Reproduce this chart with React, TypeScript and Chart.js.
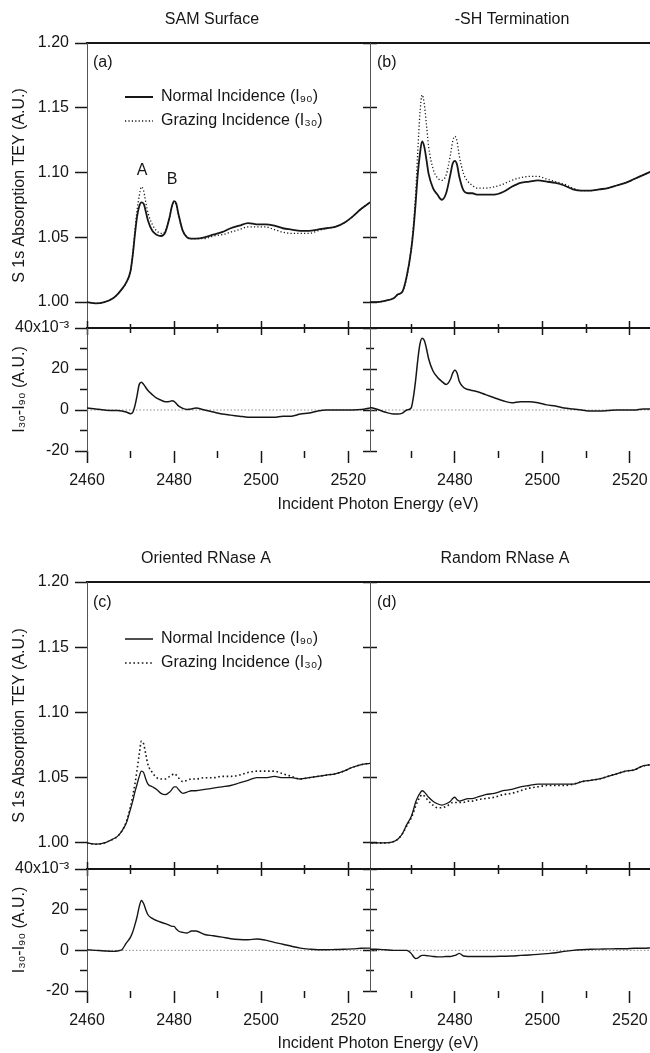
import React, { useEffect, useRef } from 'react';
import { Chart, registerables } from 'chart.js';

Chart.register(...registerables);

const FAMILY = "'Liberation Sans', Arial, Helvetica, sans-serif";
const INK = '#161616';
const FONT = { family: FAMILY, size: 16 };
Chart.defaults.font.family = FAMILY;
Chart.defaults.color = INK;

// ---------------- data ----------------
const energy = [2460, 2462, 2464, 2466, 2467, 2468, 2469, 2470, 2470.5, 2471, 2471.5, 2472, 2472.5, 2473, 2473.5, 2474, 2475, 2476, 2477, 2478, 2479, 2479.5, 2480, 2480.5, 2481, 2482, 2483, 2484, 2485, 2487, 2489, 2491, 2493, 2495, 2497, 2499, 2501, 2503, 2505, 2507, 2509, 2511, 2513, 2515, 2517, 2519, 2521, 2523, 2525];

const samNormal = [1.000, 0.999, 1.000, 1.003, 1.006, 1.010, 1.015, 1.024, 1.036, 1.052, 1.066, 1.074, 1.077, 1.076, 1.070, 1.063, 1.055, 1.052, 1.051, 1.054, 1.066, 1.074, 1.078, 1.076, 1.068, 1.055, 1.050, 1.049, 1.049, 1.050, 1.052, 1.054, 1.057, 1.059, 1.061, 1.060, 1.060, 1.059, 1.057, 1.056, 1.055, 1.055, 1.056, 1.057, 1.058, 1.061, 1.066, 1.072, 1.077];
const samGrazing = [1.000, 0.999, 1.000, 1.003, 1.006, 1.010, 1.015, 1.024, 1.037, 1.055, 1.071, 1.082, 1.089, 1.086, 1.077, 1.069, 1.060, 1.055, 1.053, 1.055, 1.066, 1.074, 1.077, 1.075, 1.067, 1.055, 1.050, 1.049, 1.049, 1.049, 1.051, 1.052, 1.054, 1.056, 1.058, 1.058, 1.058, 1.056, 1.054, 1.053, 1.053, 1.053, 1.055, 1.057, 1.058, 1.061, 1.066, 1.072, 1.077];
const samDiff = [1, 0.5, 0, -0.3, -0.3, -0.5, -1, -1.8, -1.2, 2, 7, 12.5, 13.5, 12.5, 11, 9.5, 7.5, 5.8, 4.8, 4, 4.2, 4.5, 4.2, 3.2, 2, 0.8, 0.3, 0.5, 1, 0, -1, -2, -2.5, -3, -3.5, -3.5, -3.5, -3.5, -3, -3, -2, -1.5, -0.5, 0, 0, 0, 0, 0.2, 1];

const shNormal = [1.000, 1.000, 1.001, 1.003, 1.006, 1.008, 1.020, 1.040, 1.055, 1.075, 1.098, 1.114, 1.124, 1.120, 1.110, 1.099, 1.088, 1.083, 1.079, 1.084, 1.099, 1.107, 1.109, 1.106, 1.097, 1.086, 1.084, 1.084, 1.083, 1.083, 1.083, 1.085, 1.089, 1.092, 1.093, 1.094, 1.093, 1.092, 1.090, 1.087, 1.086, 1.086, 1.087, 1.088, 1.090, 1.092, 1.095, 1.098, 1.101];
const shGrazing = [1.000, 1.000, 1.001, 1.003, 1.006, 1.008, 1.019, 1.041, 1.058, 1.082, 1.115, 1.145, 1.160, 1.153, 1.137, 1.120, 1.103, 1.096, 1.094, 1.098, 1.114, 1.124, 1.128, 1.124, 1.113, 1.099, 1.093, 1.090, 1.088, 1.088, 1.089, 1.091, 1.094, 1.096, 1.097, 1.097, 1.095, 1.093, 1.091, 1.088, 1.086, 1.086, 1.087, 1.088, 1.090, 1.092, 1.095, 1.098, 1.101];
const shDiff = [1.5, 0.5, -1, -2, -2, -1.5, 0, 1, 6, 14, 24, 32, 35, 34, 30, 25, 19, 16, 14, 12.5, 15, 18, 19.5, 18, 14, 11, 10, 9.5, 9, 7.5, 6, 4.5, 3.5, 4, 4, 3.5, 2.5, 2, 1, 0.5, 0, -0.5, -0.5, -0.3, 0, 0, 0, 0.5, 0.5];

const orientedNormal = [1.000, 0.999, 1.000, 1.003, 1.005, 1.009, 1.015, 1.026, 1.032, 1.039, 1.045, 1.051, 1.055, 1.054, 1.049, 1.045, 1.043, 1.041, 1.038, 1.037, 1.039, 1.041, 1.043, 1.043, 1.041, 1.038, 1.039, 1.040, 1.040, 1.041, 1.042, 1.043, 1.044, 1.046, 1.048, 1.050, 1.050, 1.051, 1.050, 1.050, 1.049, 1.050, 1.051, 1.052, 1.053, 1.055, 1.058, 1.060, 1.061];
const orientedGrazing = [1.000, 0.999, 1.000, 1.003, 1.005, 1.009, 1.016, 1.028, 1.036, 1.045, 1.056, 1.068, 1.078, 1.076, 1.068, 1.060, 1.054, 1.050, 1.049, 1.049, 1.051, 1.052, 1.053, 1.052, 1.050, 1.047, 1.048, 1.049, 1.049, 1.050, 1.050, 1.051, 1.051, 1.052, 1.054, 1.055, 1.055, 1.055, 1.053, 1.051, 1.049, 1.050, 1.051, 1.052, 1.053, 1.055, 1.058, 1.060, 1.061];
const orientedDiff = [0.3, 0, -0.3, -0.5, -0.3, 0.3, 3.5, 6.5, 9, 12.5, 16.5, 21.5, 24.5, 23, 20, 17.5, 15.7, 14.6, 13.8, 13.1, 12.3, 11.8, 11.8, 10.5, 9.5, 8.8, 8.5, 9.5, 9.5, 7.8, 7.2, 6.5, 5.7, 5.3, 5.2, 5.6, 5, 3.9, 3, 2, 1.1, 0.6, 0.3, 0.3, 0.4, 0.5, 0.7, 1, 1.1];

const randomNormal = [1.000, 1.000, 1.000, 1.001, 1.003, 1.007, 1.014, 1.020, 1.025, 1.031, 1.035, 1.038, 1.040, 1.039, 1.037, 1.035, 1.032, 1.030, 1.029, 1.030, 1.032, 1.034, 1.035, 1.033, 1.032, 1.033, 1.034, 1.034, 1.035, 1.037, 1.038, 1.040, 1.041, 1.043, 1.044, 1.045, 1.045, 1.045, 1.045, 1.045, 1.047, 1.048, 1.049, 1.051, 1.053, 1.055, 1.056, 1.059, 1.060];
const randomGrazing = [1.000, 1.000, 1.000, 1.001, 1.003, 1.007, 1.013, 1.019, 1.023, 1.028, 1.032, 1.035, 1.037, 1.036, 1.034, 1.032, 1.029, 1.027, 1.027, 1.028, 1.030, 1.031, 1.031, 1.031, 1.031, 1.031, 1.032, 1.032, 1.033, 1.034, 1.035, 1.037, 1.038, 1.040, 1.042, 1.043, 1.044, 1.044, 1.044, 1.045, 1.047, 1.048, 1.049, 1.051, 1.053, 1.055, 1.056, 1.059, 1.060];
const randomDiff = [0.5, 0.5, 0.3, 0, 0, 0, 0, -1.5, -3, -4, -3.8, -3, -2.5, -2.5, -2.6, -2.7, -3, -3.2, -3.2, -3, -3, -2.8, -2.5, -2, -1.5, -2.8, -3, -3, -3, -3, -3, -2.9, -2.8, -2.5, -2.3, -2, -1.6, -1.2, -0.5, 0, 0.3, 0.5, 0.6, 0.7, 0.8, 0.8, 1, 1, 1.3];

const zeroLineEnergy = [2460, 2525];
const zeroLineValue = [0, 0];

const energyTicks = [2460, 2470, 2480, 2490, 2500, 2510, 2520];
const energyLabels = [2460, 2480, 2500, 2520];
const teyTicks = [1.0, 1.05, 1.1, 1.15, 1.2];
const diffTicks = [-20, -10, 0, 10, 20, 30, 40];
const diffLabels = [-20, 0, 20, 40];
const diffTopLabel = '40x10⁻³';

const panelTitles = ['SAM Surface', '-SH Termination', 'Oriented RNase A', 'Random RNase A'];
const panelLetters = ['(a)', '(b)', '(c)', '(d)'];
const peakLabels = ['A', 'B'];
const legendLabels = ['Normal Incidence (I₉₀)', 'Grazing Incidence (I₃₀)'];
const xTitle = 'Incident Photon Energy (eV)';
const teyTitle = 'S 1s Absorption TEY (A.U.)';
const diffTitle = 'I₃₀-I₉₀ (A.U.)';

// ---------------- layout (pixels) ----------------
const PAGE_W = 650;
const PAGE_H = 1053;
const COLS = [
  { left: 87, right: 370, xMin: 2460, xMax: 2525 },
  { left: 370, right: 650, xMin: 2460.6, xMax: 2524.6 },
];
const ROWS = [
  { top: 43, mid: 328, bottom: 451 },
  { top: 582, mid: 869, bottom: 991 },
];

type Series = { label: string; values: number[]; width: number; dash?: number[] };
type TextItem = { text: string; x: number; y: number; align?: CanvasTextAlign };
type Panel = {
  col: number;
  row: number;
  kind: 'tey' | 'diff';
  series: Series[];
  texts: TextItem[];
  legendAt?: { left: number; top: number };
};

const DOT_FINE = [1.2, 2.2];
const DOT_WIDE = [1.6, 2.6];

const PANELS: Panel[] = [
  {
    col: 0, row: 0, kind: 'tey',
    series: [
      { label: legendLabels[0], values: samNormal, width: 1.8 },
      { label: legendLabels[1], values: samGrazing, width: 1.3, dash: DOT_FINE },
    ],
    texts: [
      { text: panelTitles[0], x: 212, y: 20 },
      { text: panelLetters[0], x: 93, y: 63, align: 'left' },
      { text: peakLabels[0], x: 142, y: 171 },
      { text: peakLabels[1], x: 172, y: 180 },
    ],
    legendAt: { left: 117, top: 81 },
  },
  {
    col: 0, row: 0, kind: 'diff',
    series: [{ label: 'SAM Surface I30-I90', values: samDiff, width: 1.5 }],
    texts: [{ text: xTitle, x: 378, y: 505 }],
  },
  {
    col: 1, row: 0, kind: 'tey',
    series: [
      { label: legendLabels[0], values: shNormal, width: 1.8 },
      { label: legendLabels[1], values: shGrazing, width: 1.3, dash: DOT_FINE },
    ],
    texts: [
      { text: panelTitles[1], x: 512, y: 20 },
      { text: panelLetters[1], x: 377, y: 63, align: 'left' },
    ],
  },
  {
    col: 1, row: 0, kind: 'diff',
    series: [{ label: '-SH Termination I30-I90', values: shDiff, width: 1.5 }],
    texts: [],
  },
  {
    col: 0, row: 1, kind: 'tey',
    series: [
      { label: legendLabels[0], values: orientedNormal, width: 1.3 },
      { label: legendLabels[1], values: orientedGrazing, width: 1.6, dash: DOT_WIDE },
    ],
    texts: [
      { text: panelTitles[2], x: 206, y: 559 },
      { text: panelLetters[2], x: 93, y: 603, align: 'left' },
    ],
    legendAt: { left: 117, top: 623 },
  },
  {
    col: 0, row: 1, kind: 'diff',
    series: [{ label: 'Oriented RNase A I30-I90', values: orientedDiff, width: 1.4 }],
    texts: [{ text: xTitle, x: 378, y: 1044 }],
  },
  {
    col: 1, row: 1, kind: 'tey',
    series: [
      { label: legendLabels[0], values: randomNormal, width: 1.3 },
      { label: legendLabels[1], values: randomGrazing, width: 1.6, dash: DOT_WIDE },
    ],
    texts: [
      { text: panelTitles[3], x: 505, y: 559 },
      { text: panelLetters[3], x: 377, y: 603, align: 'left' },
    ],
  },
  {
    col: 1, row: 1, kind: 'diff',
    series: [{ label: 'Random RNase A I30-I90', values: randomDiff, width: 1.4 }],
    texts: [],
  },
];

// ---------------- helpers ----------------
function axisFit(size: number, horizontal: boolean) {
  return (scale: any) => {
    if (horizontal) scale.height = size;
    else scale.width = size;
    scale.paddingLeft = 0;
    scale.paddingRight = 0;
    scale.paddingTop = 0;
    scale.paddingBottom = 0;
  };
}

function useTicks(values: number[]) {
  return (scale: any) => {
    const lo = scale.options.min;
    const hi = scale.options.max;
    scale.ticks = values.filter((v) => v >= lo - 1e-9 && v <= hi + 1e-9).map((v) => ({ value: v }));
  };
}

function tickGrid(len: number, majors: number[], minor: number, fromOuter: boolean) {
  return {
    display: true,
    drawOnChartArea: false,
    drawTicks: true,
    tickLength: len,
    tickWidth: 1.5,
    tickColor: INK,
    tickBorderDash: (ctx: any) => {
      const v = ctx && ctx.tick ? ctx.tick.value : NaN;
      if (majors.some((m) => Math.abs(m - v) < 1e-9)) return [];
      return fromOuter ? [0, len - minor, 1000] : [minor, 1000];
    },
  };
}

function textLayer(items: TextItem[]) {
  return {
    id: 'figureText',
    afterDraw(chart: any) {
      const ctx = chart.ctx;
      ctx.save();
      ctx.font = `16px ${FAMILY}`;
      ctx.fillStyle = INK;
      ctx.textBaseline = 'middle';
      for (const t of items) {
        ctx.textAlign = t.align ?? 'center';
        ctx.fillText(t.text, t.x, t.y);
      }
      ctx.restore();
    },
  };
}

function legendMover(pos: { left: number; top: number }) {
  return {
    id: 'legendMover',
    afterLayout(chart: any) {
      const lg = chart.legend;
      if (!lg) return;
      const w = lg.width || 240;
      lg.left = pos.left;
      lg.top = pos.top;
      lg.right = pos.left + w + 40;
      lg.bottom = pos.top + 120;
    },
  };
}

function legendItems(chart: any) {
  return chart.data.datasets.slice(0, 2).map((ds: any, i: number) => ({
    text: ds.label,
    fillStyle: INK,
    strokeStyle: INK,
    fontColor: INK,
    lineWidth: ds.borderWidth,
    lineDash: ds.borderDash || [],
    lineCap: 'butt',
    pointStyle: 'line',
    hidden: false,
    datasetIndex: i,
  }));
}

function buildConfig(p: Panel): any {
  const col = COLS[p.col];
  const row = ROWS[p.row];
  const tey = p.kind === 'tey';
  const top = tey ? row.top : row.mid;
  const bottom = tey ? row.mid : row.bottom;
  const outer = p.col === 0;
  const yMin = tey ? 0.98 : -20;
  const yMax = tey ? 1.2 : 40;
  const yValues = tey ? teyTicks : diffTicks;
  const yMajor = tey ? teyTicks : diffLabels;
  const yLabel = (v: number) => {
    if (tey) return v.toFixed(2);
    if (!diffLabels.includes(v)) return '';
    return v === 40 ? diffTopLabel : String(v);
  };

  const datasets: any[] = p.series.map((s) => ({
    label: s.label,
    data: energy.map((e, i) => ({ x: e, y: s.values[i] })),
    borderColor: INK,
    backgroundColor: INK,
    borderWidth: s.width,
    borderDash: s.dash ?? [],
    pointRadius: 0,
    pointHoverRadius: 0,
    fill: false,
    cubicInterpolationMode: 'monotone',
    xAxisID: 'x',
    yAxisID: 'y',
  }));
  if (!tey) {
    datasets.push({
      label: 'zero',
      data: zeroLineEnergy.map((e, i) => ({ x: e, y: zeroLineValue[i] })),
      borderColor: '#8c8c8c',
      borderWidth: 1,
      borderDash: [1.5, 2],
      pointRadius: 0,
      fill: false,
      xAxisID: 'x',
      yAxisID: 'y',
    });
  }

  const scales: any = {
    x: {
      type: 'linear', axis: 'x', position: 'bottom', min: col.xMin, max: col.xMax,
      afterBuildTicks: useTicks(energyTicks),
      afterFit: axisFit(PAGE_H - bottom, true),
      ticks: {
        display: !tey, autoSkip: false, maxRotation: 0, minRotation: 0, padding: 8,
        font: FONT, color: INK,
        callback: (v: number) => (energyLabels.includes(v) ? String(v) : ''),
      },
      grid: tey ? tickGrid(7, energyLabels, 4, false) : tickGrid(12, energyLabels, 7, false),
      border: tey ? { display: true, color: INK, width: 2 } : { display: false },
    },
    xTop: {
      type: 'linear', axis: 'x', position: 'top', min: col.xMin, max: col.xMax,
      afterBuildTicks: useTicks(energyTicks),
      afterFit: axisFit(top, true),
      ticks: { display: false },
      grid: tey ? { display: false, drawTicks: false, drawOnChartArea: false } : tickGrid(7, energyLabels, 4, true),
      border: { display: true, color: INK, width: 2 },
    },
    y: {
      type: 'linear', axis: 'y', position: 'left', min: yMin, max: yMax,
      afterBuildTicks: useTicks(yValues),
      afterFit: axisFit(col.left, false),
      ticks: { display: outer, autoSkip: false, padding: 6, font: FONT, color: INK, callback: yLabel },
      grid: outer ? tickGrid(12, yMajor, 7, true) : tickGrid(7, yMajor, 4, true),
      border: { display: true, color: '#555', width: 1 },
      title: outer
        ? { display: true, text: tey ? teyTitle : diffTitle, font: FONT, color: INK, padding: { top: 10, bottom: 0 } }
        : { display: false },
    },
  };
  if (outer) {
    scales.yR = {
      type: 'linear', axis: 'y', position: 'right', min: yMin, max: yMax,
      afterBuildTicks: useTicks(yValues),
      afterFit: axisFit(PAGE_W - col.right, false),
      ticks: { display: false },
      grid: tickGrid(7, yMajor, 4, false),
      border: { display: false },
    };
  }

  const plugins: any[] = [textLayer(p.texts)];
  if (p.legendAt) plugins.push(legendMover(p.legendAt));

  return {
    type: 'line',
    data: { datasets },
    options: {
      responsive: false,
      maintainAspectRatio: false,
      animation: false,
      devicePixelRatio: 1,
      events: [],
      layout: { padding: 0 },
      plugins: {
        legend: p.legendAt
          ? {
              display: true,
              position: 'chartArea',
              align: 'start',
              labels: {
                usePointStyle: true,
                pointStyle: 'line',
                pointStyleWidth: 28,
                padding: 8,
                font: FONT,
                color: INK,
                generateLabels: legendItems,
              },
            }
          : { display: false },
        tooltip: { enabled: false },
        title: { display: false },
      },
      scales,
    },
    plugins,
  };
}

export default function App() {
  const canvasRefs = useRef<Array<HTMLCanvasElement | null>>([]);

  useEffect(() => {
    const prevMargin = document.body.style.margin;
    document.body.style.margin = '0';
    const charts = PANELS.map((p, i) => new Chart(canvasRefs.current[i] as HTMLCanvasElement, buildConfig(p)));
    return () => {
      charts.forEach((c) => c.destroy());
      document.body.style.margin = prevMargin;
    };
  }, []);

  return (
    <div style={{ position: 'relative', width: PAGE_W, height: PAGE_H, background: '#fff', overflow: 'hidden' }}>
      {PANELS.map((_, i) => (
        <canvas
          key={i}
          ref={(el) => {
            canvasRefs.current[i] = el;
          }}
          width={PAGE_W}
          height={PAGE_H}
          style={{ position: 'absolute', left: 0, top: 0 }}
        />
      ))}
    </div>
  );
}
